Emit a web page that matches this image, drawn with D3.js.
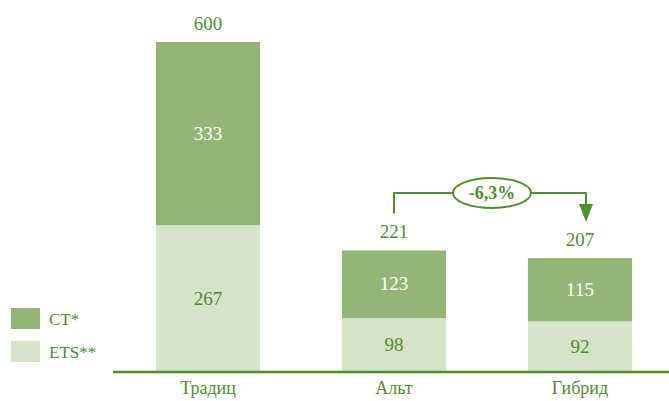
<!DOCTYPE html>
<html lang="ru">
<head>
<meta charset="UTF-8">
<script src="https://d3js.org/d3.v7.min.js"></script>
<style>
  body { margin: 0; background: #fff; }
  svg text { font-family: "Liberation Serif", "Times New Roman", serif; }
</style>
</head>
<body>
<svg id="vis" width="669" height="401"></svg>
<script>
// données
var categories = ["Традиц", "Альт", "Гибрид"];
var ct = [333, 123, 115];
var ets = [267, 98, 92];
var totals = [600, 221, 207];
var seriesNames = ["CT*", "ETS**"];
var changeLabel = "-6,3%";

var dark = "#93b676", light = "#d5e3c8", green = "#4e8f2e";
var serif = "Liberation Serif, Times New Roman, serif";

var svg = d3.select("#vis");

var x = d3.scaleBand().domain(categories).range([115, 673])
  .paddingInner(0.44).paddingOuter(0.22);
var y = d3.scaleLinear().domain([0, 600]).range([372, 42]);

var g = svg.append("g").attr("font-family", serif);

// barres
categories.forEach(function(c, i) {
  g.append("rect")
    .attr("x", x(c)).attr("width", x.bandwidth())
    .attr("y", y(ets[i])).attr("height", y(0) - y(ets[i]))
    .attr("fill", light);
  g.append("rect")
    .attr("x", x(c)).attr("width", x.bandwidth())
    .attr("y", y(ets[i] + ct[i])).attr("height", y(0) - y(ct[i]))
    .attr("fill", dark);

  var cx = x(c) + x.bandwidth() / 2;
  g.append("text").attr("x", cx).attr("y", (y(ets[i]) + y(0)) / 2 + 6)
    .attr("text-anchor", "middle").attr("font-size", 19).attr("fill", green)
    .text(ets[i]);
  g.append("text").attr("x", cx).attr("y", (y(ets[i] + ct[i]) + y(ets[i])) / 2 + 6)
    .attr("text-anchor", "middle").attr("font-size", 19).attr("fill", "#ffffff")
    .text(ct[i]);
  g.append("text").attr("x", cx).attr("y", y(totals[i]) - 12)
    .attr("text-anchor", "middle").attr("font-size", 19).attr("fill", green)
    .text(totals[i]);
});

// axe X
var xAxis = d3.axisBottom(x).tickSize(0).tickPadding(9);
var gx = svg.append("g").attr("transform", "translate(0," + y(0) + ")").call(xAxis)
  .attr("font-family", serif);
gx.select(".domain").attr("d", "M113,0H669").attr("stroke", green).attr("stroke-width", 2.5);
gx.selectAll("text").attr("font-size", 18).attr("fill", green);

// flèche de variation
var x1 = x(categories[1]) + x.bandwidth() / 2;
var x2 = x(categories[2]) + x.bandwidth() / 2 + 6;
var yTop = 193;
var ann = svg.append("g").attr("stroke", green).attr("stroke-width", 2).attr("fill", "none");
ann.append("path").attr("d", "M" + x1 + "," + (y(totals[1]) - 37) + "V" + yTop + "H" + x2 + "V" + 206);
svg.append("path").attr("d", "M" + (x2 - 7) + ",204L" + (x2 + 7) + ",204L" + x2 + ",222Z").attr("fill", green);
var ex = 492;
svg.append("ellipse").attr("cx", ex).attr("cy", yTop).attr("rx", 39).attr("ry", 15)
  .attr("fill", "#fff").attr("stroke", green).attr("stroke-width", 2);
svg.append("text").attr("x", ex).attr("y", yTop + 6).attr("text-anchor", "middle")
  .attr("font-family", serif).attr("font-size", 18).attr("font-weight", "bold")
  .attr("fill", green).text(changeLabel);

// légende
var leg = svg.append("g").attr("font-family", serif);
[dark, light].forEach(function(col, i) {
  leg.append("rect").attr("x", 11).attr("y", 308 + i * 33).attr("width", 29).attr("height", 21).attr("fill", col);
  leg.append("text").attr("x", 49).attr("y", 325 + i * 33).attr("font-size", 17).attr("fill", green)
    .text(seriesNames[i]);
});
</script>
</body>
</html>
